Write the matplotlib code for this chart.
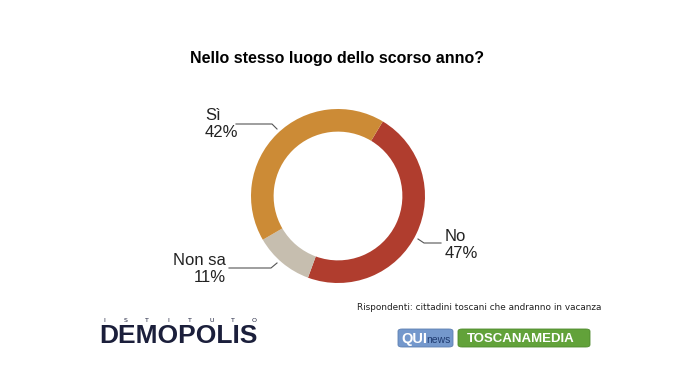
import matplotlib
matplotlib.use("Agg")
from matplotlib import pyplot as plt
from matplotlib.patches import FancyBboxPatch
import numpy as np

labels = ["No", "Non sa", "Sì"]
values = [47, 11, 42]
colors = ["#B03D2E", "#C6BEAF", "#CC8B36"]

W, H = 675, 380
fig = plt.figure(figsize=(6.75, 3.8), dpi=100)
fig.patch.set_facecolor("white")


def px(x, y):
    return x / W, 1 - y / H


# donut axes: center (338,196) px, radius ~87 px
cx, cy, r = 338, 196, 87
ax = fig.add_axes([(cx - r) / W, 1 - (cy + r) / H, 2 * r / W, 2 * r / H])
ax.pie(values, colors=colors, startangle=59, counterclock=False,
       wedgeprops=dict(width=0.26, edgecolor="none"), radius=1.0)
ax.set_xlim(-1, 1)
ax.set_ylim(-1, 1)
ax.set_aspect("equal")
ax.axis("off")

fig.text(*px(337, 58), "Nello stesso luogo dello scorso anno?",
         ha="center", va="center", fontsize=11.5, fontweight="bold",
         family=["Liberation Sans", "DejaVu Sans"])

lab_font = dict(fontsize=12, family=["Liberation Sans", "DejaVu Sans"], color="#222222")

# leader lines (figure pixel coords)
leaders = [
    [(236, 124), (272, 124), (277, 129)],
    [(418, 239), (424, 243), (441, 243)],
    [(229, 268), (271, 268), (277, 263)],
]
for pts in leaders:
    xs = [px(*p)[0] for p in pts]
    ys = [px(*p)[1] for p in pts]
    fig.add_artist(plt.Line2D(xs, ys, color="#555555", lw=0.8))

fig.text(*px(205, 124), "Sì\n42%", ha="left", va="center", linespacing=1.1, **lab_font)
fig.text(*px(445, 245), "No\n47%", ha="left", va="center", linespacing=1.1, **lab_font)
fig.text(*px(226, 269), "Non sa\n11%", ha="right", va="center", linespacing=1.1,
         multialignment="right", **lab_font)

fig.text(*px(357, 307), "Rispondenti: cittadini toscani che andranno in vacanza",
         ha="left", va="center", fontsize=6.4, family="DejaVu Sans", color="#222222")

# Demopolis logo
navy = "#1B1F3B"
for i, ch in enumerate("ISTITUTO"):
    fig.text(*px(104 + i * 21.5, 320), ch, ha="center", va="center",
             fontsize=4.5, color=navy, family="DejaVu Sans")
fig.text(*px(99, 343), "DEMOPOLIS", ha="left", va="baseline", fontsize=19,
         fontweight="bold", color=navy, family=["Liberation Sans", "DejaVu Sans"])

# QUI news / TOSCANAMEDIA badges
fig.add_artist(FancyBboxPatch(px(398, 347), 55 / W, 18 / H,
                              boxstyle="round,pad=0,rounding_size=0.006",
                              fc="#7498CC", ec="#5D7FB0", lw=0.6,
                              transform=fig.transFigure))
fig.text(*px(401, 343), "QUI", ha="left", va="baseline", fontsize=10.5, fontweight="bold",
         color="white", family=["Liberation Sans", "DejaVu Sans"])
fig.text(*px(426, 343), "news", ha="left", va="baseline", fontsize=7.5,
         color="#1F3B70", family=["Liberation Sans", "DejaVu Sans"])
fig.add_artist(FancyBboxPatch(px(458, 347), 132 / W, 18 / H,
                              boxstyle="round,pad=0,rounding_size=0.006",
                              fc="#62A23A", ec="#4E8A2C", lw=0.6,
                              transform=fig.transFigure))
fig.text(*px(521, 342), "TOSCANAMEDIA", ha="center", va="baseline", fontsize=9.5,
         fontweight="bold", color="white", family=["Liberation Sans", "DejaVu Sans"])

fig.savefig("out.png", dpi=100, facecolor="white")
